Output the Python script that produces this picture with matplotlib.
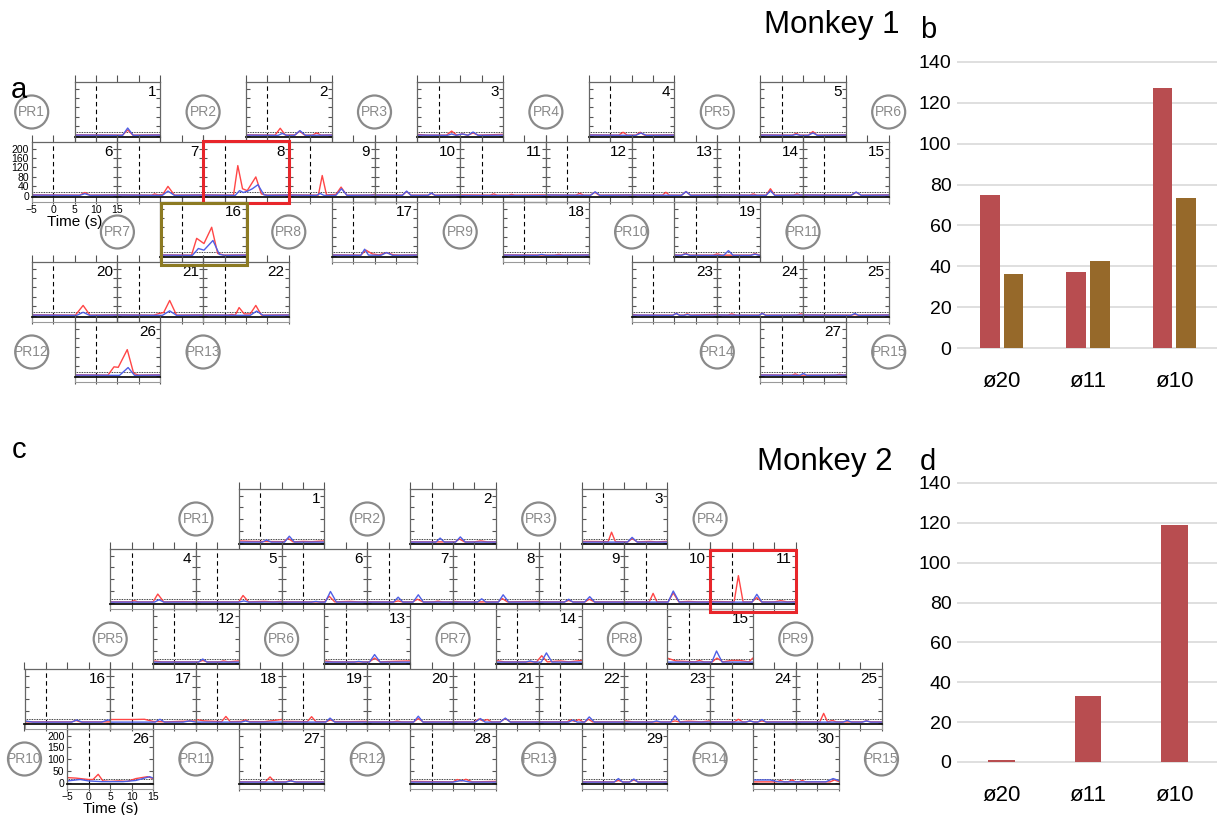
import matplotlib.pyplot as plt
from matplotlib.patches import Circle, Rectangle

plt.rcParams['font.family'] = ['Liberation Sans', 'DejaVu Sans']

FIG_W, FIG_H = 1221, 815

# ---- data: firing-rate traces, (time s, rate) knots ----
m1_red = {
    1: [(6.2, 3), (7.4, 25), (8.6, 3)],
    2: [(1.8, 3), (3, 32), (4.2, 3), (6.5, 4), (7.5, 20), (8.7, 3), (10.5, 3), (11.5, 12), (12.5, 3)],
    3: [(-5, 6), (-3, 3), (1.8, 3), (3, 20), (4.2, 3), (5.5, 8), (6.8, 3), (8, 12), (9.2, 3)],
    4: [(2, 3), (3, 15), (4, 3), (6, 3), (7, 15), (8, 3)],
    5: [(2.5, 3), (3.4, 10), (4.3, 3), (6.3, 3), (7.3, 18), (8.3, 3)],
    6: [(6.2, 3), (7.4, 14), (8.6, 3)],
    7: [(3, 3), (3.7, 8), (4.5, 4), (5.6, 6), (6.8, 40), (8.3, 3)],
    8: [(2.1, 3), (3.1, 128), (4.2, 30), (5.3, 22), (7.3, 80), (8.6, 8), (10, 3)],
    9: [(1.9, 3), (2.8, 86), (3.8, 4), (6, 6), (7.2, 37), (8.5, 3), (14, 3), (15, 6)],
    10: [(1.5, 3), (2.5, 18), (3.5, 3), (7.5, 3), (8.3, 10), (9.1, 3)],
    11: [(2, 3), (2.8, 8), (3.6, 3), (6.3, 3), (7, 6), (7.7, 3)],
    12: [(2, 3), (2.9, 10), (3.8, 3), (5.4, 3), (6.4, 15), (7.4, 3)],
    13: [(2.2, 3), (3, 15), (3.8, 3), (6.7, 3), (7.7, 18), (8.7, 3)],
    14: [(2.6, 3), (3.4, 8), (4.2, 3), (6.4, 3), (7.4, 30), (8.4, 3), (12.8, 3), (13.6, 8), (14.4, 3)],
    15: [(6.3, 3), (7.4, 15), (8.5, 3)],
    16: [(2.3, 3), (3.5, 74), (5.2, 52), (7.0, 121), (8.4, 10), (10, 3)],
    17: [(1.8, 3), (3.0, 24), (4.5, 8), (6, 4), (7.8, 13), (9.5, 4), (11, 3)],
    18: [(7, 3), (8, 6), (9, 3)],
    19: [(-3.4, 3), (-2.4, 10), (-1.4, 3), (4, 3), (5, 8), (6, 3), (12.8, 3), (13.8, 9), (14.8, 3)],
    20: [(5.2, 3), (7, 44), (8.6, 3)],
    21: [(3.5, 3), (4.8, 10), (5.8, 14), (7.2, 65), (8.8, 3)],
    22: [(0.8, 3), (1.7, 6), (2.5, 3), (3.4, 35), (4.6, 8), (6, 8), (7.3, 44), (8.6, 3)],
    23: [(-5, 6), (-3.5, 3), (4.6, 3), (5.4, 10), (6.2, 3), (7.2, 3), (8, 8), (8.8, 3)],
    24: [(-2.6, 3), (-1.6, 8), (-0.6, 3), (4.7, 3), (5.5, 10), (6.3, 3), (13.5, 3), (14.5, 8), (15, 6)],
    25: [(6.3, 3), (7.1, 6), (7.9, 3)],
    26: [(2.8, 3), (4.2, 38), (5.2, 36), (7.3, 111), (8.8, 10), (10, 3)],
    27: [(2.4, 3), (3.2, 8), (4, 3), (12.5, 3), (13.5, 6), (14.5, 3)],
}
m1_blue = {
    1: [(6.2, 2), (7.4, 33), (8.7, 2)],
    2: [(2.5, 2), (3.5, 10), (4.5, 2), (6.3, 2), (7.6, 22), (8.9, 2)],
    3: [(2, 2), (3, 8), (4, 2), (5.5, 8), (6.8, 2), (8, 16), (9.2, 2)],
    4: [(6, 2), (7.2, 12), (8.4, 2)],
    5: [(2.5, 2), (3.4, 6), (4.3, 2), (6.2, 2), (7.3, 12), (8.4, 2)],
    6: [(6.2, 2), (7.4, 9), (8.6, 2)],
    7: [(5.5, 2), (6.8, 20), (8.3, 2)],
    8: [(2.5, 2), (3.5, 22), (4.4, 14), (5.4, 20), (6.5, 30), (7.8, 47), (9.2, 4), (10, 2)],
    9: [(1.5, 2), (2.3, 10), (3.2, 2), (6, 2), (7.3, 30), (8.6, 2)],
    10: [(1.5, 2), (2.5, 20), (3.5, 2), (7.5, 2), (8.3, 12), (9.1, 2)],
    11: [],
    12: [(5.4, 2), (6.5, 17), (7.6, 2)],
    13: [(6.6, 2), (7.7, 18), (8.8, 2)],
    14: [(6.4, 2), (7.4, 22), (8.4, 2)],
    15: [(6.2, 2), (7.4, 16), (8.6, 2)],
    16: [(2.5, 2), (3.9, 31), (5.2, 24), (7.3, 65), (8.8, 6), (10, 2)],
    17: [(1.8, 2), (2.7, 28), (3.6, 3), (6.5, 2), (7.8, 14), (9.2, 2)],
    18: [(3, 2), (4, 6), (5, 2)],
    19: [(-3.4, 2), (-2.4, 8), (-1.4, 2), (6.5, 2), (7.6, 22), (8.7, 2), (12.8, 2), (13.8, 7), (14.8, 2)],
    20: [(5.5, 2), (7, 15), (8.5, 2)],
    21: [(5.5, 2), (7.2, 21), (8.8, 2)],
    22: [(6, 2), (7.5, 20), (9, 2)],
    23: [(4.6, 2), (5.4, 10), (6.2, 2), (7.2, 2), (8, 5), (8.8, 2)],
    24: [(4.7, 2), (5.5, 10), (6.3, 2)],
    25: [(6.2, 2), (7.1, 10), (8, 2)],
    26: [(5.5, 2), (7.5, 35), (9, 2)],
    27: [(4.3, 2), (5.1, 10), (5.9, 2)],
}
m2_red = {
    1: [(-5, 8), (-2, 6), (5.5, 5), (6.5, 19), (7.7, 4), (10, 6), (12, 5)],
    2: [(5.5, 4), (6.5, 16), (7.7, 4), (10, 4), (11.5, 8), (13, 4)],
    3: [(-5, 6), (1.2, 5), (2.0, 45), (2.9, 5), (5.8, 4), (6.8, 18), (8, 4), (11, 6), (12.5, 4)],
    4: [(-0.3, 4), (0.6, 9), (1.5, 4), (5, 4), (6.1, 37), (7.5, 4), (12, 5)],
    5: [(-5, 6), (-4, 4), (5, 4), (6, 31), (7.3, 4), (11, 6), (13, 4)],
    6: [(5, 4), (6.1, 28), (7.4, 4), (11, 6), (13, 4)],
    7: [(1.2, 4), (2.2, 8), (3.2, 4), (5.6, 4), (6.7, 15), (8, 4), (10.5, 4), (11.5, 7), (12.5, 4)],
    8: [(-5, 6), (-3, 4), (5.5, 4), (6.5, 18), (7.7, 4)],
    9: [(1, 4), (2, 10), (3, 4), (5.8, 4), (6.8, 15), (8, 4)],
    10: [(0.8, 4), (1.7, 40), (2.6, 4), (5.2, 4), (6.4, 42), (7.7, 4), (10, 6), (12, 4)],
    11: [(-5, 6), (0.6, 4), (1.6, 115), (2.7, 4), (4.8, 4), (5.9, 22), (7, 4), (10, 4), (11.5, 9), (13, 4)],
    12: [(-5, 8), (-3, 4), (5.6, 4), (6.6, 10), (7.6, 4), (10.5, 4), (11.5, 8), (12.5, 4)],
    13: [(-5, 8), (-3, 4), (5.5, 4), (6.7, 20), (8, 4), (11, 6)],
    14: [(-5, 10), (-3, 4), (4.5, 4), (5.7, 30), (7, 4), (10, 8), (12, 4)],
    15: [(-5, 20), (-3, 8), (1.5, 4), (2.5, 10), (3.5, 4), (5.5, 4), (6.6, 20), (8, 4), (10, 10), (12, 10), (14, 4)],
    16: [(6, 4), (7, 10), (8, 4)],
    17: [(-5, 14), (0, 14), (3, 15), (5, 6), (8, 4), (11, 6), (15, 8)],
    18: [(-5, 14), (-3, 8), (1, 5), (2, 27), (3, 5), (5.5, 6), (6.5, 12), (7.5, 5), (11, 5)],
    19: [(-5, 6), (1, 5), (2, 26), (3, 5), (5.4, 5), (6.4, 12), (7.5, 5), (11, 5)],
    20: [(1, 4), (2, 7), (3, 4), (5.8, 4), (6.9, 18), (8, 4)],
    21: [(0, 4), (1, 16), (2, 8), (3, 14), (4, 4), (6, 4), (7.2, 18), (8.4, 4)],
    22: [(1.6, 4), (2.4, 12), (3.4, 6), (4.4, 14), (5.3, 4), (5.8, 4), (6.6, 15), (7.6, 4)],
    23: [(-5, 8), (-3, 4), (5.8, 4), (6.8, 8), (7.8, 4), (10, 7), (13, 4)],
    24: [(0.6, 4), (1.6, 15), (2.6, 4), (3.5, 4), (4.3, 8), (5.1, 4), (6.2, 4), (7.1, 8), (8, 4)],
    25: [(0.6, 4), (1.5, 40), (2.4, 4), (3.5, 10), (4.5, 4), (10.5, 4), (11.5, 8), (12.5, 4)],
    26: [(-5, 22), (-3, 20), (0, 14), (1, 14), (2.2, 36), (3.3, 8), (5, 6), (7, 8), (9, 6), (11, 18), (13.7, 26), (15, 18)],
    27: [(1.2, 4), (2.3, 25), (3.4, 4), (6, 4), (7, 10), (8, 4)],
    28: [(-5, 6), (5, 4), (6, 14), (7, 8), (8, 15), (9.5, 4)],
    29: [(2.6, 4), (3.6, 10), (4.6, 4), (6.2, 4), (7.2, 12), (8.2, 4)],
    30: [(0.5, 4), (1.4, 10), (2.3, 4), (3.2, 4), (4.1, 12), (5, 4), (5.7, 4), (6.5, 10), (7.3, 4), (13, 4), (14, 12), (15, 6)],
}
m2_blue = {
    1: [(0.5, 3), (1.5, 12), (2.6, 3), (5.7, 3), (6.8, 28), (8, 3)],
    2: [(1, 3), (2, 20), (3, 3), (5.6, 3), (6.7, 25), (7.9, 3)],
    3: [(5.7, 3), (6.8, 23), (8, 3)],
    4: [(5.3, 3), (6.4, 13), (7.5, 3)],
    5: [(5, 3), (6.2, 8), (7.3, 3)],
    6: [(2, 3), (3, 6), (4, 3), (5.2, 3), (6.4, 48), (7.8, 3)],
    7: [(1.1, 3), (2.2, 24), (3.3, 3), (5.7, 3), (6.9, 34), (8.1, 3)],
    8: [(0.7, 3), (1.7, 17), (2.7, 3), (5.6, 3), (6.7, 34), (8, 3)],
    9: [(1, 3), (2, 15), (3, 3), (5.7, 3), (6.9, 26), (8.1, 3)],
    10: [(5.2, 3), (6.4, 50), (7.8, 3)],
    11: [(4.8, 3), (5.9, 36), (7.1, 3)],
    12: [(5.6, 3), (6.6, 16), (7.6, 3)],
    13: [(2, 3), (3, 6), (4, 3), (5.5, 3), (6.7, 35), (8, 3)],
    14: [(2, 3), (3, 8), (4, 3), (5.6, 3), (6.8, 42), (8.1, 3)],
    15: [(5.4, 3), (6.5, 50), (7.8, 3)],
    16: [(-5, 8), (-3, 3), (6, 3), (7.2, 12), (8.4, 3), (13, 3), (14.5, 12), (15, 10)],
    17: [(-5, 3), (5.5, 3), (6.6, 15), (7.7, 3), (12, 3), (13.5, 8), (15, 3)],
    18: [(5.6, 3), (6.6, 8), (7.6, 3)],
    19: [(5.3, 3), (6.3, 20), (7.4, 3)],
    20: [(5.8, 3), (6.9, 28), (8, 3)],
    21: [(0.2, 3), (1.4, 18), (2.5, 3), (6, 3), (7.2, 20), (8.4, 3)],
    22: [(2, 3), (3, 12), (4, 3), (5.7, 3), (6.8, 25), (8, 3)],
    23: [(1.5, 3), (2.5, 8), (3.5, 3), (5.8, 3), (6.8, 30), (8, 3)],
    24: [(3.3, 3), (4.3, 8), (5.3, 3), (6.1, 3), (7.1, 14), (8.1, 3)],
    25: [(6, 3), (7, 10), (8, 3), (10.5, 3), (11.5, 8), (12.5, 3)],
    26: [(-5, 8), (-2, 14), (0, 8), (3, 5), (8, 5), (11, 10), (13, 20), (14.2, 26), (15, 20)],
    27: [(6, 3), (7.2, 8), (8.4, 3)],
    28: [(5, 3), (7, 10), (9, 3)],
    29: [(2.6, 3), (3.6, 18), (4.6, 3), (6.2, 3), (7.2, 16), (8.2, 3)],
    30: [(-5, 12), (-1, 12), (1, 4), (12, 4), (13.7, 18), (15, 10)],
}

sizes = ['ø20', 'ø11', 'ø10']
m1_counts_red = [75, 37.5, 127]
m1_counts_olive = [36.5, 42.5, 73.5]
m2_counts_red = [1, 33, 119]

# ---- layout (pixel units) ----
m1_cells = {1: (0.5, 0), 2: (2.5, 0), 3: (4.5, 0), 4: (6.5, 0), 5: (8.5, 0),
            16: (1.5, 2), 17: (3.5, 2), 18: (5.5, 2), 19: (7.5, 2),
            20: (0, 3), 21: (1, 3), 22: (2, 3), 23: (7, 3), 24: (8, 3), 25: (9, 3),
            26: (0.5, 4), 27: (8.5, 4)}
for i in range(10):
    m1_cells[6 + i] = (i, 1)
m1_rings = [(0, 0), (2, 0), (4, 0), (6, 0), (8, 0), (10, 0),
            (1, 2), (3, 2), (5, 2), (7, 2), (9, 2),
            (0, 4), (2, 4), (8, 4), (10, 4)]

m2_cells = {1: (2.5, 0), 2: (4.5, 0), 3: (6.5, 0),
            12: (1.5, 2), 13: (3.5, 2), 14: (5.5, 2), 15: (7.5, 2),
            26: (0.5, 4), 27: (2.5, 4), 28: (4.5, 4), 29: (6.5, 4), 30: (8.5, 4)}
for i in range(8):
    m2_cells[4 + i] = (i + 1, 1)
for i in range(10):
    m2_cells[16 + i] = (i, 3)
m2_rings = [(2, 0), (4, 0), (6, 0), (8, 0),
            (1, 2), (3, 2), (5, 2), (7, 2), (9, 2),
            (0, 4), (2, 4), (4, 4), (6, 4), (8, 4), (10, 4)]

CW, BOX_H, PITCH, STRIP = 85.7, 55, 60, 5
RED_LINE, BLUE_LINE = '#ff4646', '#4f5fe6'
RING = '#8a8a8a'

fig = plt.figure(figsize=(FIG_W / 100, FIG_H / 100), dpi=100)
inch = fig.dpi_scale_trans


def add_px_axes(left, top, w, h):
    return fig.add_axes([left / FIG_W, 1 - (top + h) / FIG_H, w / FIG_W, h / FIG_H])


def fig_text(x, y, s, **kw):
    fig.text(x / 100, (FIG_H - y) / 100, s, transform=inch, **kw)


def knots(pts, base):
    pts = list(pts)
    if not pts or pts[0][0] > -5:
        pts = [(-5, base)] + pts
    if pts[-1][0] < 15:
        pts = pts + [(15, base)]
    return [p[0] for p in pts], [p[1] for p in pts]


def draw_monkey(cells, rings, red, blue, x0, top0, yticks, label_panel, boxes):
    for n, (col, row) in cells.items():
        left = x0 + col * CW
        top = top0 + row * PITCH
        ax = add_px_axes(left, top, CW, BOX_H)
        ax.set_xlim(-5, 15)
        ax.set_ylim(-5, 228)
        ax.axvline(0, color='k', lw=0.8, ls=(0, (4, 3)))
        ax.axhline(18, color='k', lw=0.6, ls=(0, (1, 1)))
        t, y = knots(red[n], red[n][0][1] if red[n] and red[n][0][0] == -5 else 4)
        ax.plot(t, y, color=RED_LINE, lw=1.0, solid_joinstyle='round')
        t, y = knots(blue[n], 3)
        ax.plot(t, y, color=BLUE_LINE, lw=1.0, solid_joinstyle='round')
        ax.set_xticks([-5, 0, 5, 10, 15])
        ax.set_yticks(yticks)
        ax.tick_params(axis='x', which='both', direction='out', length=STRIP,
                       width=0.8, color='#555555', top=True, labelsize=7.5, pad=1)
        ax.tick_params(axis='y', direction='in', length=3, width=0.8,
                       color='#555555', right=True, labelsize=7.5, pad=2)
        for side in ['left', 'right', 'top']:
            ax.spines[side].set_color('#666666')
            ax.spines[side].set_linewidth(0.9)
        ax.spines['bottom'].set_color('#111111')
        ax.spines['bottom'].set_linewidth(1.3)
        ax.plot([0, 1], [-STRIP / BOX_H] * 2, transform=ax.transAxes,
                color='#9a9a9a', lw=0.8, clip_on=False)
        for tx in [0, 1]:
            ax.plot([tx, tx], [0, -STRIP / BOX_H], transform=ax.transAxes,
                    color='#9a9a9a', lw=0.8, clip_on=False)
        if n == label_panel:
            ax.set_xlabel('Time (s)', fontsize=11, labelpad=0)
        else:
            ax.set_xticklabels([])
            ax.set_yticklabels([])
        ax.text(0.95, 0.95, str(n), transform=ax.transAxes, ha='right',
                va='top', fontsize=11)
    for i, (col, row) in enumerate(rings):
        cx = x0 + col * CW
        cy = top0 + row * PITCH + 30
        fig.add_artist(Circle((cx / 100, (FIG_H - cy) / 100), 0.165, transform=inch,
                              fill=False, ec=RING, lw=1.6))
        fig_text(cx, cy, 'PR%d' % (i + 1), ha='center', va='center',
                 fontsize=10, color=RING)
    for (x1, y1, x2, y2, c) in boxes:
        fig.add_artist(Rectangle((x1 / 100, (FIG_H - y2) / 100), (x2 - x1) / 100,
                                 (y2 - y1) / 100, transform=inch, fill=False,
                                 ec=c, lw=2.2, zorder=10))


draw_monkey(m1_cells, m1_rings, m1_red, m1_blue, 31.7, 82,
            [0, 40, 80, 120, 160, 200], 6,
            [(203, 141, 289.5, 202.5, '#e8262b'), (161, 203.5, 247, 264.5, '#8c7a22')])
draw_monkey(m2_cells, m2_rings, m2_red, m2_blue, 24.5, 489,
            [0, 50, 100, 150, 200], 26,
            [(710, 549.5, 795.7, 611.5, '#e8262b')])


def bar_panel(top_px, bottom_px, series, colors, width, offsets):
    ppu = (bottom_px - top_px) / 140
    ax = add_px_axes(957, top_px - 6, 260, bottom_px - top_px + 12)
    ax.set_ylim(-6 / ppu, 140 + 6 / ppu)
    ax.set_xlim(-0.518, 2.495)
    x = range(len(sizes))
    for vals, c, off in zip(series, colors, offsets):
        ax.bar([i + off for i in x], vals, width=width, color=c, zorder=3)
    ax.set_yticks(range(0, 141, 20))
    ax.grid(axis='y', color='#dcdcdc', lw=1.3, zorder=0)
    ax.set_xticks(list(x))
    ax.set_xticklabels(sizes, fontsize=16)
    ax.tick_params(axis='x', length=0, pad=12)
    ax.tick_params(axis='y', length=0, pad=4, labelsize=14)
    for s in ax.spines.values():
        s.set_visible(False)
    return ax


bar_panel(61.7, 348.3, [m1_counts_red, m1_counts_olive], ['#b84d50', '#96692a'],
          0.225, [-0.137, 0.137])
bar_panel(483, 762, [m2_counts_red], ['#b84d50'], 0.31, [0])

fig_text(19, 90, 'a', ha='center', va='center', fontsize=21)
fig_text(928, 30, 'b', ha='center', va='center', fontsize=21)
fig_text(19, 450, 'c', ha='center', va='center', fontsize=21)
fig_text(928, 462, 'd', ha='center', va='center', fontsize=21)
fig_text(900, 25, 'Monkey 1', ha='right', va='center', fontsize=22.5)
fig_text(893, 462, 'Monkey 2', ha='right', va='center', fontsize=22.5)

fig.savefig('out.png', dpi=100)
